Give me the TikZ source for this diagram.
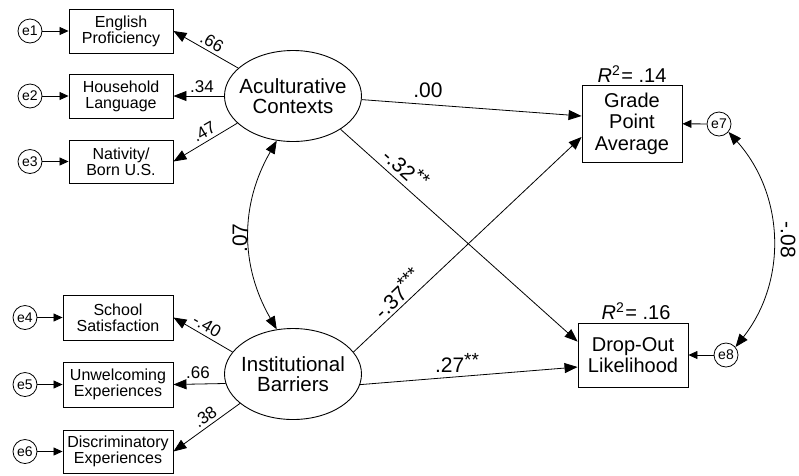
\documentclass[tikz,border=0pt]{standalone}
\usepackage{fontspec}
\setmainfont{Liberation Sans}
\usetikzlibrary{arrows.meta,shapes.geometric,calc}
\newcommand{\sigstars}[1]{\raisebox{0.3em}{\fontsize{19}{19}\selectfont #1}}
\begin{document}
\begin{tikzpicture}[x=1pt,y=-1pt,
  obs/.style={draw,line width=0.9pt,inner sep=0pt,align=center,font=\fontsize{16}{16}\selectfont},
  lat/.style={draw,ellipse,line width=0.9pt,inner sep=0pt,minimum width=137pt,minimum height=91pt},
  lattext/.style={inner sep=0pt,align=center,font=\fontsize{20.5}{20}\selectfont},
  err/.style={draw,circle,line width=0.8pt,inner sep=0pt,minimum size=24pt,font=\fontsize{14}{14}\selectfont},
  path/.style={line width=0.8pt,-{Triangle[length=13pt,width=10pt]}},
  epath/.style={line width=0.8pt,-{Triangle[length=9pt,width=8pt]}},
  cov/.style={line width=0.8pt,{Triangle[length=13pt,width=10pt]}-{Triangle[length=13pt,width=10pt]}},
  lab/.style={inner sep=0pt,font=\fontsize{17}{17}\selectfont},
  blab/.style={inner sep=0pt,font=\fontsize{21}{21}\selectfont},
  rlab/.style={inner sep=0pt,font=\fontsize{20}{20}\selectfont}]
\useasboundingbox (0,0) rectangle (799,475);

% observed indicators
\node[obs,minimum width=104pt,minimum height=44pt] (eng) at (121,31) {English\\Proficiency};
\node[obs,minimum width=104pt,minimum height=44pt] (hh) at (121,96) {Household\\Language};
\node[obs,minimum width=104pt,minimum height=43pt] (nat) at (121,161.5) {Nativity/\\Born U.S.};
\node[obs,minimum width=110pt,minimum height=45pt] (sch) at (118,317.5) {School\\Satisfaction};
\node[obs,minimum width=110pt,minimum height=45pt] (unw) at (118,384.5) {Unwelcoming\\Experiences};
\node[obs,minimum width=110pt,minimum height=43pt] (dis) at (118,451.5) {Discriminatory\\Experiences};

% errors
\node[err] (e1) at (30,31) {e1};
\node[err] (e2) at (30,96) {e2};
\node[err] (e3) at (30,161.5) {e3};
\node[err] (e4) at (25,317.5) {e4};
\node[err] (e5) at (25,384.5) {e5};
\node[err] (e6) at (25,451.5) {e6};

% latent
\node[lat] (acc) at (293,96) {};
\node[lattext] (acct) at (acc.center) {Aculturative\\Contexts};
\node[lat] (inst) at (293,374) {};
\node[lattext] (instt) at (inst.center) {Institutional\\Barriers};

% outcomes
\node[obs,minimum width=100pt,minimum height=77pt,font=\fontsize{20}{21.5}\selectfont] (gpa) at (632,123.5) {Grade\\Point\\Average};
\node[obs,minimum width=110pt,minimum height=64pt,font=\fontsize{20}{21}\selectfont] (drop) at (633,355) {Drop-Out\\Likelihood};
\node[rlab] (r1) at (632,74) {\textit{R}\textsuperscript{2}\kern1pt= .14};
\node[rlab] (r2) at (636,311) {\textit{R}\textsuperscript{2}\kern1pt= .16};
\node[err] (e7) at (719,124) {e7};
\node[err] (e8) at (726,355) {e8};

% error arrows
\foreach \e/\b in {e1/eng,e2/hh,e3/nat,e4/sch,e5/unw,e6/dis}
  \draw[epath] (\e) -- (\b);
\draw[epath] (e7) -- (gpa);
\draw[epath] (e8) -- (drop);

% loadings
\draw[path] (acc.153) -- (eng.east);
\draw[path] (acc.west) -- (hh.east);
\draw[path] (acc.206) -- (nat.east);
\draw[path] (inst.160) -- (sch.east);
\draw[path] (inst.188) -- (unw.east);
\draw[path] (inst.209) -- (dis.east);

\node[lab,rotate=-30] (l1) at (212,42) {.66};
\node[lab] (l2) at (202,87) {.34};
\node[lab,rotate=30] (l3) at (204,132) {.47};
\node[lab,rotate=-30] (l4) at (207,326) {-.40};
\node[lab] (l5) at (198,373) {.66};
\node[lab,rotate=35] (l6) at (205,417) {.38};

% structural paths
\draw[path] (acc.-3) -- ($(gpa.west)+(0,-7.5)$);
\draw[path] (acc.-35) -- ($(drop.north west)+(0,19)$);
\draw[path] (inst.20) -- ($(gpa.west)+(0,13.5)$);
\draw[path] (inst.-9) -- ($(drop.west)+(0,12)$);

\node[blab] (p1) at (428,90) {.00};
\node[blab,rotate=-42] (p2) at (406,168) {-.32\sigstars{**}};
\node[blab,rotate=44] (p3) at (397,293) {-.37\sigstars{***}};
\node[blab] (p4) at (457,363) {.27\sigstars{**}};

% covariances
\draw[cov] (acc.250) to[bend right=30] (inst.110);
\node[blab,rotate=90] (c1) at (240,238) {.07};
\draw[cov] (e7.-40) to[bend left=40] (e8.40);
\node[blab,rotate=-90] (c2) at (788,240) {-.08};
\end{tikzpicture}
\end{document}
